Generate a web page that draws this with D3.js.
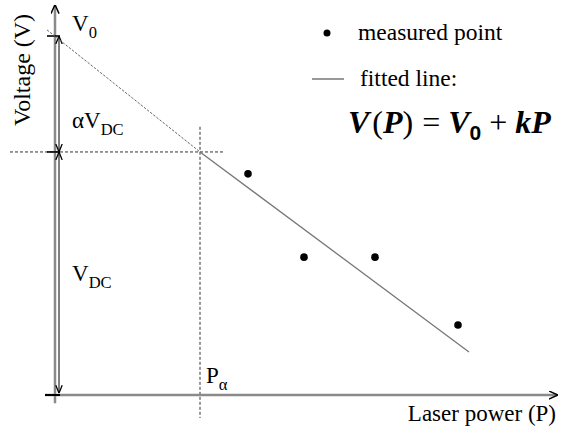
<!DOCTYPE html>
<html>
<head>
<meta charset="utf-8">
<script src="https://cdn.jsdelivr.net/npm/d3@7"></script>
<style>
  body { margin: 0; background: #fff; }
</style>
</head>
<body>
<script>
// measured points (laser power P, voltage V) in arbitrary units
const powers = [38.6, 49.8, 64, 80.6];
const voltages = [61.6, 38.4, 38.4, 19.5];

// fitted line: extrapolated part (dashed) and fitted part (solid)
const fitP = [-1.6, 29, 82.8];
const fitV = [101.7, 67.7, 12.0];

const V0 = 100;
const Palpha = 29;
const Valpha = 67.7;

const width = 562, height = 430;
const SERIF = "'Liberation Serif', 'DejaVu Serif', 'Noto Serif', Tinos, 'Nimbus Roman', FreeSerif, Times, serif";

const x = d3.scaleLinear().domain([0, 100]).range([55, 555]);
const y = d3.scaleLinear().domain([0, 100]).range([395, 36]);

const svg = d3.select("body").append("svg")
  .attr("width", width)
  .attr("height", height)
  .attr("font-family", SERIF);

const defs = svg.append("defs");
// open chevron arrow heads
defs.append("marker")
  .attr("id", "head")
  .attr("viewBox", "0 0 10 10")
  .attr("refX", 10).attr("refY", 5)
  .attr("markerWidth", 8).attr("markerHeight", 8)
  .attr("markerUnits", "userSpaceOnUse")
  .attr("orient", "auto-start-reverse")
  .append("path")
  .attr("d", "M0,1 L10,5 L0,9")
  .attr("fill", "none")
  .attr("stroke", "#000")
  .attr("stroke-width", 1.6);

defs.append("marker")
  .attr("id", "axishead")
  .attr("viewBox", "0 0 10 10")
  .attr("refX", 9).attr("refY", 5)
  .attr("markerWidth", 9).attr("markerHeight", 9)
  .attr("markerUnits", "userSpaceOnUse")
  .attr("orient", "auto")
  .append("path")
  .attr("d", "M0,0.5 L10,5 L0,9.5")
  .attr("fill", "none")
  .attr("stroke", "#000")
  .attr("stroke-width", 1.6);

// guide lines through (Palpha, Valpha)
svg.append("line")
  .attr("x1", x(-9)).attr("x2", x(34))
  .attr("y1", y(Valpha)).attr("y2", y(Valpha))
  .attr("stroke", "#000").attr("stroke-width", 0.8)
  .attr("stroke-dasharray", "3,2");

svg.append("line")
  .attr("x1", x(Palpha)).attr("x2", x(Palpha))
  .attr("y1", y(74.7)).attr("y2", y(-6.4))
  .attr("stroke", "#000").attr("stroke-width", 0.8)
  .attr("stroke-dasharray", "3,2");

// axes
svg.append("line")
  .attr("x1", x(-2)).attr("x2", x(100.4))
  .attr("y1", y(0)).attr("y2", y(0))
  .attr("stroke", "#8a8a8a").attr("stroke-width", 2.5)
  .attr("marker-end", "url(#axishead)");

svg.append("line")
  .attr("x1", x(0)).attr("x2", x(0))
  .attr("y1", y(-2.3)).attr("y2", y(108.5))
  .attr("stroke", "#8a8a8a").attr("stroke-width", 2.5)
  .attr("marker-end", "url(#axishead)");

// ticks at V0, Valpha and 0
[V0, Valpha, 0].forEach(v => {
  svg.append("line")
    .attr("x1", x(v === 0 ? -2 : -1.6)).attr("x2", x(1))
    .attr("y1", y(v)).attr("y2", y(v))
    .attr("stroke", "#000").attr("stroke-width", v === 0 ? 2 : 1.6);
});

// dimension arrows
const dimX = x(0.8);
svg.append("line")
  .attr("x1", dimX).attr("x2", dimX)
  .attr("y1", y(V0)).attr("y2", y(Valpha))
  .attr("stroke", "#000").attr("stroke-width", 1)
  .attr("marker-start", "url(#head)")
  .attr("marker-end", "url(#head)");

svg.append("line")
  .attr("x1", dimX).attr("x2", dimX)
  .attr("y1", y(Valpha)).attr("y2", y(0.5))
  .attr("stroke", "#000").attr("stroke-width", 1)
  .attr("marker-start", "url(#head)")
  .attr("marker-end", "url(#head)");

// fitted line
const line = d3.line().x(d => x(d[0])).y(d => y(d[1]));
const fit = fitP.map((p, i) => [p, fitV[i]]);

svg.append("path")
  .attr("d", line(fit.slice(0, 2)))
  .attr("fill", "none")
  .attr("stroke", "#666").attr("stroke-width", 1)
  .attr("stroke-dasharray", "2.5,1.5");

svg.append("path")
  .attr("d", line(fit.slice(1)))
  .attr("fill", "none")
  .attr("stroke", "#777").attr("stroke-width", 1.3);

// measured points
svg.selectAll(".pt")
  .data(powers)
  .enter()
  .append("circle")
  .attr("class", "pt")
  .attr("cx", d => x(d))
  .attr("cy", (d, i) => y(voltages[i]))
  .attr("r", 3.8)
  .attr("fill", "#000");

// labels
svg.append("text")
  .attr("transform", "translate(30,70) rotate(-90)")
  .attr("text-anchor", "middle")
  .attr("font-size", 24)
  .text("Voltage (V)");

const sub = (g, xx, yy, main, s, size) => {
  const t = g.append("text")
    .attr("x", xx).attr("y", yy)
    .attr("font-size", size);
  t.append("tspan").text(main);
  t.append("tspan")
    .attr("dy", size * 0.3)
    .attr("font-size", size * 0.72)
    .text(s);
  return t;
};

sub(svg, 72, 31, "V", "0", 23);
sub(svg, 72, 128, "αV", "DC", 23);
sub(svg, 72, 281, "V", "DC", 23);
sub(svg, 206, 383, "P", "α", 23);

svg.append("text")
  .attr("x", 556).attr("y", 421)
  .attr("text-anchor", "end")
  .attr("font-size", 23)
  .text("Laser power (P)");

// legend
svg.append("circle")
  .attr("cx", 327).attr("cy", 33).attr("r", 3.5).attr("fill", "#000");
svg.append("text")
  .attr("x", 358).attr("y", 40)
  .attr("font-size", 23.5)
  .text("measured point");

svg.append("line")
  .attr("x1", 312).attr("x2", 344)
  .attr("y1", 79).attr("y2", 79)
  .attr("stroke", "#333").attr("stroke-width", 1);
svg.append("text")
  .attr("x", 360).attr("y", 86)
  .attr("font-size", 23.5)
  .text("fitted line:");

// formula V(P) = V0 + kP
const f = svg.append("text")
  .attr("x", 348).attr("y", 133)
  .attr("font-size", 32);
const bi = (s, dx) => f.append("tspan").attr("dx", dx || 0)
  .attr("font-style", "italic").attr("font-weight", "bold").text(s);
bi("V");
f.append("tspan").attr("dx", 3).text("(");
bi("P");
f.append("tspan").text(")");
f.append("tspan").attr("dx", 9).text("=");
bi("V", 8);
f.append("tspan")
  .attr("dy", 7)
  .attr("font-size", 21)
  .attr("font-family", "'Liberation Sans', 'DejaVu Sans', sans-serif")
  .attr("font-weight", "bold")
  .text("0");
f.append("tspan").attr("dy", -7).attr("dx", 8).text("+");
bi("kP", 8);
</script>
</body>
</html>
